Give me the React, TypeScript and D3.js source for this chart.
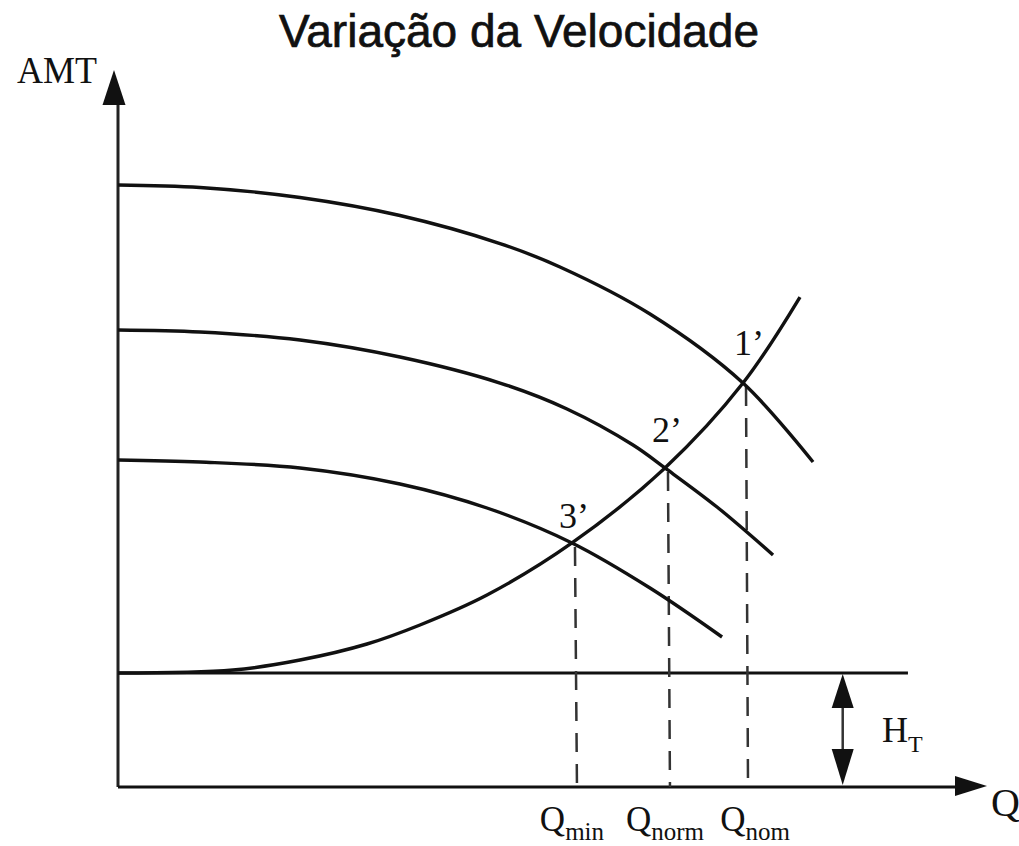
import React from "react";
import * as d3 from "d3";

// Pump head curves (Q, AMT) at three rotational speeds, arbitrary units 0–100
const pumpQ1 = [0, 9.43, 20.92, 32.41, 43.91, 50.8, 61.15, 71.84, 79.89];
const pumpH1 = [84.2, 83.85, 82.45, 79.93, 76.01, 72.73, 66.15, 56.5, 45.45];

const pumpQ2 = [0, 9.43, 20.92, 32.41, 43.91, 51.61, 59.2, 62.87, 68.85, 75.29];
const pumpH2 = [63.92, 63.64, 62.52, 60.14, 56.5, 52.87, 47.83, 44.62, 39.16, 32.45];

const pumpQ3 = [0, 9.43, 20.92, 32.41, 42.41, 52.18, 61.15, 69.43];
const pumpH3 = [45.73, 45.45, 44.62, 42.38, 39.02, 34.13, 27.83, 20.98];

// System curve: static head plus friction losses
const systemQ = [0, 13.22, 20.92, 28.62, 34.71, 42.41, 52.18, 62.87, 71.84, 78.39];
const systemH = [15.94, 16.36, 17.76, 20.0, 22.66, 26.85, 34.13, 44.62, 56.5, 68.53];

// Static head
const staticHead = 15.94;
const staticLineEndQ = 90.8;
const staticArrowQ = 83.3;

// Operating points (intersection of pump and system curves)
const pointNames = ["1’", "2’", "3’"];
const pointQ = [71.84, 62.87, 52.18];
const pointH = [56.5, 44.62, 34.13];
const flowLabels = ["min", "norm", "nom"];
const flowQ = [52.18, 62.87, 71.84];

const W = 1019;
const H = 846;

export default function App() {
  const x = d3.scaleLinear().domain([0, 100]).range([118, 988]);
  const y = d3.scaleLinear().domain([0, 100]).range([787, 72]);

  const line = d3
    .line<[number, number]>()
    .x((d) => x(d[0]))
    .y((d) => y(d[1]))
    .curve(d3.curveCatmullRom.alpha(0.5));

  const zip = (a: number[], b: number[]) => a.map((v, i) => [v, b[i]] as [number, number]);
  const pumps = [zip(pumpQ1, pumpH1), zip(pumpQ2, pumpH2), zip(pumpQ3, pumpH3)];
  const system = zip(systemQ, systemH);

  const x0 = x(0);
  const y0 = y(0);
  const serif = "'Liberation Serif', 'Times New Roman', serif";

  // arrowhead helper: tip point, direction unit vector, length, half width
  const head = (tx: number, ty: number, ux: number, uy: number, len: number, hw: number) => {
    const bx = tx - ux * len;
    const by = ty - uy * len;
    const px = -uy;
    const py = ux;
    return `M${tx},${ty}L${bx + px * hw},${by + py * hw}L${bx - px * hw},${by - py * hw}Z`;
  };

  const labelOffsets = [
    [6, -28],
    [2, -26],
    [2, -15],
  ];

  const hs = y(staticHead);
  const ax = x(staticArrowQ);

  return (
    <svg width={W} height={H} style={{ display: "block", position: "absolute", left: 0, top: 0 }}>
      <rect width={W} height={H} fill="#fff" />
      <text
        x={519}
        y={47}
        textAnchor="middle"
        fontFamily="'Liberation Sans', Arial, sans-serif"
        fontSize={46}
        fill="#111"
        stroke="#111"
        strokeWidth={0.7}
      >
        Variação da Velocidade
      </text>

      {/* axes */}
      <line x1={x0} y1={y0} x2={x0} y2={y(100) + 30} stroke="#222" strokeWidth={3} />
      <path d={head(x0 - 4, y(100) - 2, 0, -1, 35, 11.5)} fill="#111" />
      <line x1={x0} y1={y0} x2={x(100) - 28} y2={y0} stroke="#111" strokeWidth={3} />
      <path d={head(x(100) - 1, y0 - 1, 1, 0, 32, 10)} fill="#111" />
      <text x={17} y={83} fontFamily={serif} fontSize={37} fill="#111" textLength={80} lengthAdjust="spacingAndGlyphs">
        AMT
      </text>
      <text x={991} y={816} fontFamily={serif} fontSize={40} fill="#111">
        Q
      </text>

      {/* static head line and dimension arrow */}
      <line x1={x0} y1={hs} x2={x(staticLineEndQ)} y2={hs} stroke="#111" strokeWidth={3} />
      <line x1={ax} y1={hs + 20} x2={ax} y2={y0 - 20} stroke="#333" strokeWidth={2.5} />
      <path d={head(ax, hs + 1, 0, -1, 34, 11)} fill="#111" />
      <path d={head(ax, y0 - 2, 0, 1, 36, 11)} fill="#111" />
      <text x={882} y={742} fontFamily={serif} fontSize={36} fill="#111">
        H
        <tspan fontSize={24} dy={10}>
          T
        </tspan>
      </text>

      {/* dashed verticals at operating flows */}
      {pointQ.map((q, i) => (
        <line
          key={`d${i}`}
          x1={x(q) + 3}
          y1={y(pointH[i]) + 4}
          x2={x(q) + 5}
          y2={y0}
          stroke="#333"
          strokeWidth={2.5}
          strokeDasharray="19 12"
        />
      ))}

      {/* pump curves */}
      {pumps.map((p, i) => (
        <path key={`p${i}`} d={line(p) ?? ""} fill="none" stroke="#111" strokeWidth={3.4} />
      ))}
      {/* system curve */}
      <path d={line(system) ?? ""} fill="none" stroke="#111" strokeWidth={3.4} />

      {/* operating point labels */}
      {pointNames.map((n, i) => (
        <text
          key={`n${i}`}
          x={x(pointQ[i]) + labelOffsets[i][0]}
          y={y(pointH[i]) + labelOffsets[i][1]}
          textAnchor="middle"
          fontFamily={serif}
          fontSize={36}
          fill="#111"
        >
          {n}
        </text>
      ))}

      {/* flow labels */}
      {flowLabels.map((s, i) => (
        <text
          key={`q${i}`}
          x={x(flowQ[i]) + (i === 2 ? 12 : 0)}
          y={831}
          textAnchor="middle"
          fontFamily={serif}
          fontSize={35}
          fill="#111"
        >
          Q
          <tspan fontSize={25} dy={9}>
            {s}
          </tspan>
        </text>
      ))}
    </svg>
  );
}
